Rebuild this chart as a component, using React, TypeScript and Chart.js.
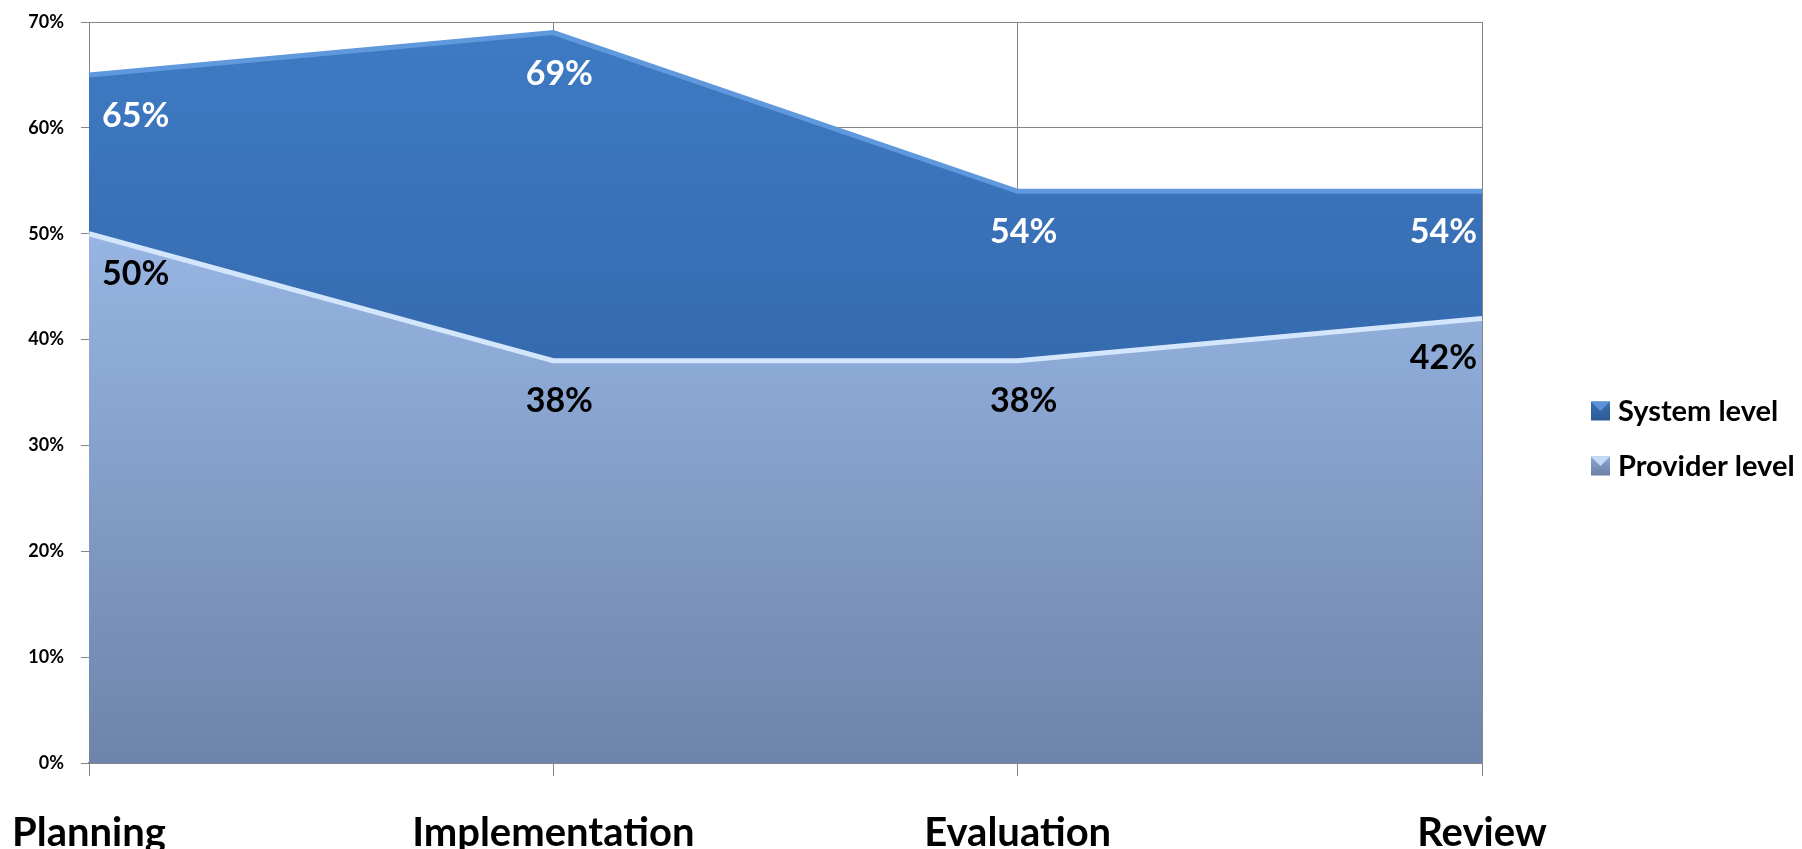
import React, { useEffect, useRef } from 'react';
import { Chart, registerables } from 'chart.js';

Chart.register(...registerables);

const stages = ['Planning', 'Implementation', 'Evaluation', 'Review'];
const systemLevel = [65, 69, 54, 54];
const providerLevel = [50, 38, 38, 42];
const seriesNames = ['System level', 'Provider level'];
const axisMax = 70;
const axisStep = 10;

const FONT = 'Lato, "Open Sans", sans-serif';
const GRID = '#868686';

// vertical gradient helper for the area fills
function vGradient(chart: Chart, from: number, to: number, top: string, bottom: string) {
  const area = chart.chartArea;
  if (!area) return top;
  const y0 = chart.scales.y.getPixelForValue(from);
  const y1 = chart.scales.y.getPixelForValue(to);
  const g = chart.ctx.createLinearGradient(0, y0, 0, y1);
  g.addColorStop(0, top);
  g.addColorStop(1, bottom);
  return g;
}

// value labels inside each area, just under the line
const valueLabels = {
  id: 'valueLabels',
  afterDatasetsDraw(chart: any) {
    const { ctx, chartArea } = chart;
    ctx.save();
    ctx.font = `bold 34px ${FONT}`;
    ctx.textAlign = 'center';
    ctx.textBaseline = 'middle';
    chart.data.datasets.forEach((ds: any, di: number) => {
      const meta = chart.getDatasetMeta(di);
      ctx.fillStyle = ds.labelColor;
      meta.data.forEach((pt: any, i: number) => {
        const text = `${ds.data[i]}%`;
        const w = ctx.measureText(text).width;
        const x = Math.min(Math.max(pt.x + 6, chartArea.left + w / 2 + 13), chartArea.right - w / 2 - 5);
        const y = pt.y + ds.labelOffset;
        ctx.fillText(text, x, y);
      });
    });
    ctx.restore();
  },
};

// legend on the right with bevelled swatches
const sideLegend = {
  id: 'sideLegend',
  afterDraw(chart: any) {
    const { ctx } = chart;
    const x = 1591;
    const size = 19;
    const rows = [411, 466];
    ctx.save();
    ctx.font = `bold 29px ${FONT}`;
    ctx.textAlign = 'left';
    ctx.textBaseline = 'middle';
    chart.data.datasets.forEach((ds: any, i: number) => {
      const cy = rows[i];
      const top = cy - size / 2;
      const g = ctx.createLinearGradient(0, top, 0, top + size);
      g.addColorStop(0, ds.swatch[0]);
      g.addColorStop(1, ds.swatch[1]);
      ctx.fillStyle = g;
      ctx.fillRect(x, top, size, size);
      // light bevel on the upper edge
      ctx.fillStyle = ds.swatch[2];
      ctx.beginPath();
      ctx.moveTo(x, top);
      ctx.lineTo(x + size, top);
      ctx.lineTo(x + size / 2, top + size / 2);
      ctx.closePath();
      ctx.fill();
      ctx.fillStyle = '#000';
      ctx.fillText(seriesNames[i], x + size + 8, cy + 1);
    });
    ctx.restore();
  },
};

export default function App() {
  const ref = useRef<HTMLCanvasElement>(null);

  useEffect(() => {
    if (!ref.current) return;
    const chart = new Chart(ref.current, {
      type: 'line',
      data: {
        labels: stages,
        datasets: [
          {
            label: seriesNames[0],
            data: systemLevel,
            order: 2,
            fill: 'origin',
            tension: 0,
            pointRadius: 0,
            borderWidth: 5,
            borderColor: '#5f98dc',
            borderJoinStyle: 'miter',
            backgroundColor: (c: any) => vGradient(c.chart, axisMax, 30, '#3e7bc4', '#3466aa'),
            labelColor: '#ffffff',
            labelOffset: 41,
            swatch: ['#3a70b4', '#2b5a95', '#5b93d6'],
          } as any,
          {
            label: seriesNames[1],
            data: providerLevel,
            order: 1,
            fill: 'origin',
            tension: 0,
            pointRadius: 0,
            borderWidth: 5,
            borderColor: '#d3e6fb',
            borderJoinStyle: 'miter',
            backgroundColor: (c: any) => vGradient(c.chart, 50, 0, '#97b5e3', '#6e84aa'),
            labelColor: '#000000',
            labelOffset: 40,
            swatch: ['#8ea9d6', '#6a80a6', '#c5daf5'],
          } as any,
        ],
      },
      options: {
        responsive: false,
        animation: false,
        events: [],
        layout: { padding: { top: 22, right: 320, left: 0, bottom: 0 } },
        plugins: {
          legend: { display: false },
          tooltip: { enabled: false },
        },
        scales: {
          x: {
            offset: false,
            grid: {
              color: GRID,
              lineWidth: 1,
              tickLength: 13,
              drawOnChartArea: true,
            },
            border: { color: GRID, width: 2 },
            ticks: {
              color: '#000',
              font: { family: FONT, size: 40, weight: 'bold' },
              padding: 33,
              maxRotation: 0,
              autoSkip: false,
            },
            afterFit(scale: any) {
              scale.height = 86;
              scale.paddingLeft = 0;
              scale.paddingRight = 0;
            },
          },
          y: {
            min: 0,
            max: axisMax,
            grid: { color: GRID, lineWidth: 1, tickLength: 8 },
            border: { color: GRID, width: 1 },
            ticks: {
              stepSize: axisStep,
              color: '#000',
              font: { family: FONT, size: 18, weight: 'bold' },
              padding: 17,
              callback: (v: any) => `${v}%`,
            },
            afterFit(scale: any) {
              scale.width = 89;
              scale.paddingTop = 0;
              scale.paddingBottom = 0;
            },
          },
        },
      },
      plugins: [valueLabels, sideLegend],
    });
    return () => chart.destroy();
  }, []);

  return (
    <div style={{ position: 'absolute', left: 0, top: 0, width: 1802, height: 849, background: '#fff' }}>
      <canvas ref={ref} width={1802} height={849} />
    </div>
  );
}
